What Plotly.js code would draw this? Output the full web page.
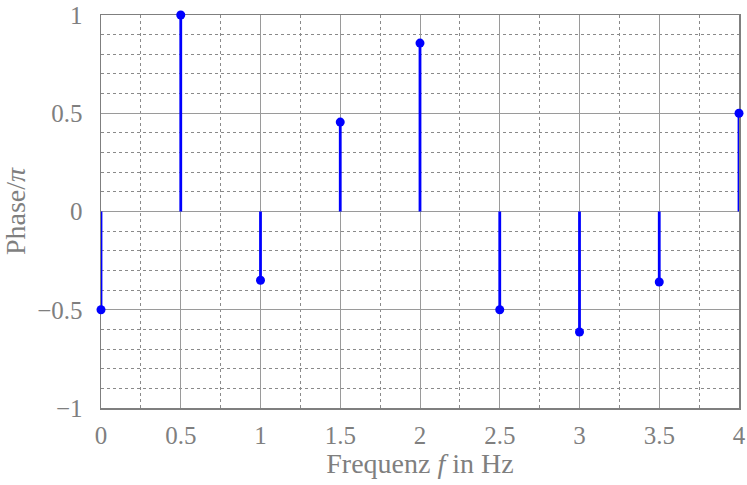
<!DOCTYPE html>
<html><head><meta charset="utf-8">
<script src="https://cdn.plot.ly/plotly-3.0.1.min.js"></script>
<style>body{margin:0;padding:0;background:#fff}#chart{width:747px;height:485px}</style>
</head><body><div id="chart"></div>
<script>
const freqs = [0, 0.5, 1, 1.5, 2, 2.5, 3, 3.5, 4];
const phases = [-0.5, 1, -0.35, 0.455, 0.857, -0.5, -0.613, -0.359, 0.5];
const xTicks = [0, 0.5, 1, 1.5, 2, 2.5, 3, 3.5, 4];
const yTicks = [-1, -0.5, 0, 0.5, 1];

const stemX = [], stemY = [];
freqs.forEach((f, i) => { stemX.push(f, f, null); stemY.push(0, phases[i], null); });

const grey = '#7f7f7f';
const fam = '"Liberation Serif", "DejaVu Serif", serif';
const tickFont = {family: fam, size: 25, color: grey};
const titleFont = {family: fam, size: 28, color: grey};

const data = [
  {x: stemX, y: stemY, type: 'scatter', mode: 'lines', line: {color: '#0000ff', width: 2.8}, cliponaxis: false, hoverinfo: 'skip'},
  {x: freqs, y: phases, type: 'scatter', mode: 'markers', marker: {color: '#0000ff', size: 9}, cliponaxis: false}
];

const layout = {
  width: 747, height: 485,
  margin: {l: 101, r: 8, t: 15, b: 77},
  showlegend: false,
  paper_bgcolor: '#fff', plot_bgcolor: '#fff',
  font: tickFont,
  xaxis: {
    range: [0, 4], tickvals: xTicks, ticktext: xTicks.map(String), tickfont: tickFont,
    showgrid: true, gridcolor: '#9a9a9a', gridwidth: 1,
    zeroline: false, showline: true, linecolor: grey, linewidth: 1.5, mirror: true,
    layer: 'below traces',
    ticks: '', ticklabelstandoff: 4,
    minor: {dtick: 0.25, tick0: 0, showgrid: true, gridcolor: '#8a8a8a', griddash: 'dot', gridwidth: 1, ticks: ''},
    title: {text: 'Frequenz <i>f</i> in Hz', font: titleFont, standoff: 2}
  },
  yaxis: {
    range: [-1, 1], tickvals: yTicks, ticktext: yTicks.map(v => v < 0 ? '\u2212' + Math.abs(v) : String(v)), tickfont: tickFont,
    showgrid: true, gridcolor: '#9a9a9a', gridwidth: 1,
    zeroline: true, zerolinecolor: '#9a9a9a', zerolinewidth: 1,
    showline: true, linecolor: grey, linewidth: 1.5, mirror: true,
    layer: 'below traces',
    ticks: '', ticklabelstandoff: 12,
    minor: {dtick: 0.1, tick0: 0, showgrid: true, gridcolor: '#8a8a8a', griddash: 'dot', gridwidth: 1, ticks: ''},
    title: {text: 'Phase/<i>π</i>', font: titleFont, standoff: 8}
  }
};

Plotly.newPlot('chart', data, layout, {displayModeBar: false, staticPlot: true});
</script></body></html>
